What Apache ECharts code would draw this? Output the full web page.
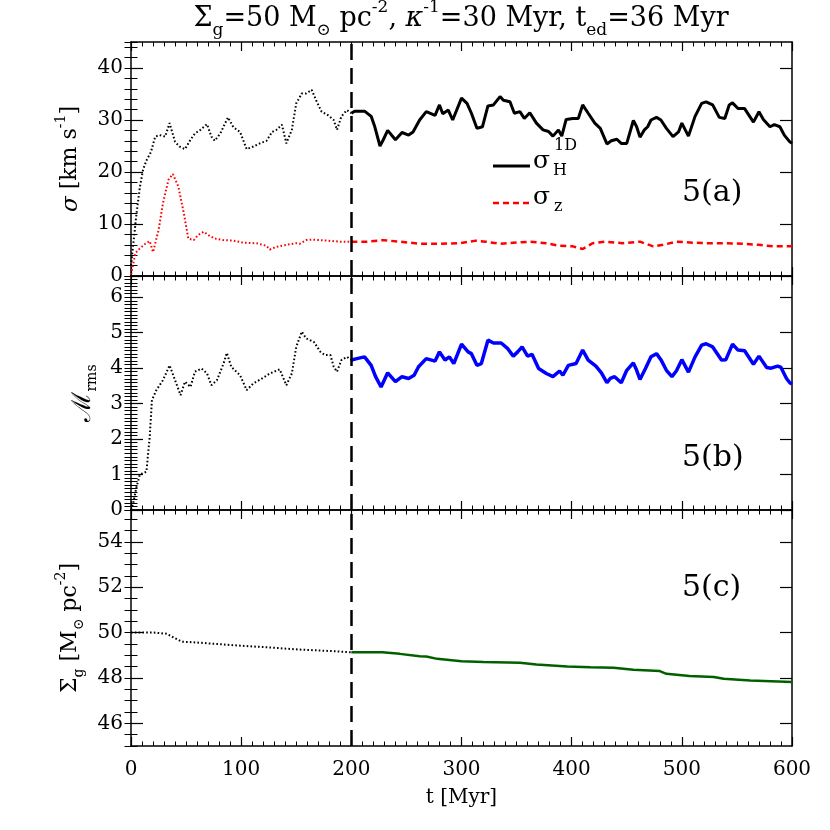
<!DOCTYPE html>
<html><head><meta charset="utf-8">
<script src="https://cdn.jsdelivr.net/npm/echarts@6/dist/echarts.min.js"></script>
<style>html,body{margin:0;padding:0;background:#fff}#c{width:830px;height:830px}</style>
</head><body><div id="c"></div>
<script>
// ---------------- data ----------------
const dividerT = 200;
const xTicks = [0, 100, 200, 300, 400, 500, 600];
// panel (a): sigma_H^1D
const tH1 = [0,2,5,8,11,14,18,22,26,31,35,40,44,49,54,58,63,69,73,76,81,88,93,99,105,111,117,123,128,132,137,141,146,150,155,159,164,168,173,179,184,187,191,196,200];
const sH1 = [2,6,12,17,20.5,22.2,23.8,26.8,27.1,26.8,29.4,25.8,24.9,24.4,26.2,27.4,28.1,29.2,26.8,26.0,27.4,30.5,28.6,27.7,24.4,24.9,25.5,26.0,27.7,28.1,29.1,25.5,28.1,33.2,35.1,35.1,35.8,33.8,31.6,30.9,30.0,28.1,30.7,31.9,31.3];
const tH2 = [200,203,212,218,221,226,229,233,240,246,252,256,262,268,276,280,283,288,292,300,305,309,314,319,324,329,335,338,344,348,353,357,362,368,374,379,383,388,391,395,401,406,410,415,421,426,432,436,441,445,450,456,459,462,466,469,472,477,481,486,492,497,500,506,512,518,522,528,534,539,543,546,551,557,561,565,570,574,580,584,589,593,598,600];
const sH2 = [31.3,31.7,31.7,30.7,28.9,25.0,26.2,28.0,26.2,27.6,27.1,27.7,30.0,31.6,30.9,32.9,31.2,31.9,30.0,34.2,33.2,31.3,28.4,28.7,32.7,32.9,34.5,33.8,33.5,31.3,31.6,30.3,31.4,29.4,28.1,27.8,26.9,28.1,26.9,30.1,30.3,30.3,32.9,31.3,29.4,28.4,25.4,26.0,26.3,25.5,25.5,29.9,28.7,26.7,28.1,28.7,30.0,30.5,30.0,28.4,26.8,27.7,29.4,26.9,30.7,33.2,33.5,32.9,30.5,30.3,32.9,33.3,32.2,32.2,30.9,29.6,31.6,30.1,28.7,29.1,28.7,27.1,25.8,25.5];
// panel (a): sigma_z
const tZ1 = [0,4,8,13,17,20,25,29,34,38,43,48,52,57,61,66,70,76,84,93,102,114,123,126,132,141,150,153,159,165,178,190,200];
const sZ1 = [0.3,4.4,5.3,6.2,6.7,4.6,8.8,14.0,18.5,19.6,17.2,12.0,7.2,6.9,7.9,8.5,7.9,7.2,6.9,6.8,6.4,6.3,5.8,5.1,5.6,6.0,6.3,6.2,6.9,7.0,6.8,6.6,6.6];
const tZ2 = [200,214,229,244,262,280,298,313,322,335,347,362,377,389,401,410,419,431,446,462,474,483,495,510,525,540,555,570,583,600];
const sZ2 = [6.6,6.6,6.9,6.6,6.2,6.2,6.3,6.8,6.6,6.2,6.4,6.6,6.3,5.8,5.7,5.2,6.3,6.6,6.3,6.6,5.7,6.0,6.6,6.4,6.3,6.3,6.2,6.0,5.7,5.7];
// panel (b): Mach_rms
const tM1 = [0,2,5,8,14,17,19,23,29,35,40,45,49,54,58,64,69,73,78,84,87,91,99,105,111,119,126,135,141,146,150,155,159,166,172,176,181,184,187,191,196,200];
const sM1 = [0,0.19,0.65,1.0,1.08,2.07,3.1,3.38,3.66,4.08,3.66,3.24,3.62,3.47,3.90,3.99,3.85,3.52,3.66,4.13,4.43,4.04,3.80,3.38,3.57,3.71,3.85,3.97,3.52,3.85,4.60,5.03,4.84,4.74,4.46,4.37,4.37,4.04,3.90,4.23,4.32,4.23];
const tM2 = [200,205,212,218,222,227,233,240,246,252,257,261,268,276,280,285,289,293,300,306,309,314,318,324,329,336,342,347,351,355,360,364,370,377,383,389,392,397,404,410,415,422,427,432,435,439,445,450,456,459,462,467,472,477,481,486,491,495,500,506,512,518,522,528,536,540,546,551,557,565,570,577,581,587,590,595,598,600];
const sM2 = [4.23,4.27,4.32,4.08,3.76,3.47,3.87,3.62,3.76,3.71,3.80,4.04,4.27,4.20,4.46,4.23,4.32,4.13,4.68,4.46,4.41,4.08,4.13,4.79,4.71,4.71,4.55,4.34,4.46,4.60,4.34,4.39,3.99,3.85,3.76,3.92,3.80,4.08,4.13,4.51,4.23,4.06,3.87,3.59,3.71,3.76,3.59,3.94,4.15,3.94,3.68,3.99,4.32,4.41,4.24,3.94,3.76,3.92,4.24,3.89,4.32,4.65,4.69,4.60,4.23,4.24,4.68,4.51,4.49,4.11,4.34,4.02,4.00,4.06,4.02,3.71,3.59,3.55];
// panel (c): Sigma_g
const tS1 = [0,20,32,38,46,63,93,123,153,184,200];
const sS1 = [50.0,50.0,49.95,49.8,49.6,49.55,49.44,49.35,49.25,49.18,49.13];
const tS2 = [200,228,244,262,268,278,300,320,353,368,396,417,438,456,480,486,507,529,538,562,600];
const sS2 = [49.13,49.13,49.06,48.96,48.94,48.84,48.74,48.70,48.67,48.59,48.50,48.47,48.45,48.36,48.30,48.18,48.08,48.04,47.96,47.89,47.82];
// tick labels
const yTicksA = [0, 10, 20, 30, 40];
const yTicksB = [0, 1, 2, 3, 4, 5, 6];
const yTicksC = [46, 48, 50, 52, 54];

// ---------------- chart ----------------
const FONT = 'DejaVu Serif';
const chart = echarts.init(document.getElementById('c'), null, {renderer: 'canvas'});

const grids = [
  {left: 131, right: 38, top: 42, height: 234},
  {left: 131, right: 38, top: 276, height: 234},
  {left: 131, right: 38, top: 510, height: 236}
];

const lineCol = '#000';
function xPair(gi, showLabel) {
  const base = {
    type: 'value', gridIndex: gi, min: 0, max: 600, interval: 100,
    axisLine: {show: true, onZero: false, lineStyle: {color: lineCol, width: 1.5}},
    axisTick: {show: true, inside: true, length: 9, lineStyle: {color: lineCol, width: 1.2}},
    minorTick: {show: true, splitNumber: 10, length: 4.5, lineStyle: {color: lineCol, width: 1}},
    splitLine: {show: false}, minorSplitLine: {show: false}
  };
  const bottom = Object.assign({}, base, {
    position: 'bottom',
    axisLabel: {show: showLabel, color: '#000', fontFamily: FONT, fontSize: 20, margin: 14,
      customValues: xTicks},
    name: showLabel ? 't [Myr]' : '', nameLocation: 'middle', nameGap: 42,
    nameTextStyle: {color: '#000', fontFamily: FONT, fontSize: 20}
  });
  const top = Object.assign({}, base, {position: 'top', axisLabel: {show: false}});
  return [bottom, top];
}

const nameRich = {
  sp: {fontFamily: FONT, fontSize: 14, lineHeight: 14, verticalAlign: 'top', color: '#000'},
  sb: {fontFamily: FONT, fontSize: 14, lineHeight: 14, verticalAlign: 'bottom', color: '#000'},
  m: {fontFamily: FONT, fontSize: 26, lineHeight: 32, color: '#000'},
  i: {fontFamily: FONT, fontSize: 23, lineHeight: 32, fontStyle: 'italic', color: '#000'},
  n: {fontFamily: FONT, fontSize: 22, lineHeight: 32, color: '#000'}
};

function yAxes(gi, min, max, interval, minorInterval, ticks, name, nameGap) {
  const common = {type: 'value', gridIndex: gi, min: min, max: max, splitLine: {show: false}};
  const major = (pos, showLab) => Object.assign({}, common, {
    position: pos,
    interval: (min % interval === 0) ? interval : undefined,
    axisLine: {show: true, onZero: false, lineStyle: {color: lineCol, width: 1.5}},
    axisTick: {show: true, inside: true, length: 12, customValues: ticks, lineStyle: {color: lineCol, width: 1.2}},
    axisLabel: {show: showLab, customValues: ticks, color: '#000', fontFamily: FONT, fontSize: 20, margin: 8},
    name: showLab ? name : '', nameLocation: 'middle', nameRotate: 90, nameGap: nameGap,
    nameTextStyle: {color: '#000', fontFamily: FONT, fontSize: 22, lineHeight: 32, rich: nameRich}
  });
  const minor = (pos) => Object.assign({}, common, {
    position: pos, interval: minorInterval,
    axisLine: {show: false},
    axisTick: {show: true, inside: true, length: 6.5, lineStyle: {color: lineCol, width: 1}},
    axisLabel: {show: false}
  });
  return [major('left', true), minor('left'), major('right', false), minor('right')];
}

const xAxis = [].concat(xPair(0, false), xPair(1, false), xPair(2, true));
const yAxis = [].concat(
  yAxes(0, 0, 45, 10, 2, yTicksA, '{i|σ}{n| [km s}{sp|-1}{n|]}', 42),
  yAxes(1, 0, 6.6, 1, 0.1, yTicksB, '{m|ℳ}{sb|rms}', 32),
  yAxes(2, 45, 55.4, 2, 0.5, yTicksC, '{n|Σ}{sb|g}{n| [M}{sb|⊙}{n| pc}{sp|-2}{n|]}', 40)
);

function mk(t, v) { return t.map((x, i) => [x, v[i]]); }
const dividerMark = {
  silent: true, symbol: ['none', 'none'], label: {show: false}, animation: false,
  lineStyle: {color: '#000', type: [16, 8], width: 2.5},
  data: [{xAxis: dividerT}]
};
function ln(gi, t, v, color, width, type, withMark) {
  const s = {
    type: 'line', xAxisIndex: gi * 2, yAxisIndex: gi * 4, data: mk(t, v),
    symbol: 'none', showSymbol: false, silent: true, animation: false, z: 3,
    lineStyle: {color: color, width: width, type: type}
  };
  if (withMark) s.markLine = dividerMark;
  return s;
}

const dots = [1.6, 2.2];
const series = [
  ln(0, tZ1, sZ1, '#ff0000', 2, dots, false),
  ln(0, tZ2, sZ2, '#ff0000', 2.5, [6, 4], false),
  ln(0, tH1, sH1, '#000000', 2, dots, true),
  ln(0, tH2, sH2, '#000000', 3, 'solid', false),
  ln(1, tM1, sM1, '#000000', 2, dots, true),
  ln(1, tM2, sM2, '#0000ff', 3.5, 'solid', false),
  ln(2, tS1, sS1, '#000000', 2, dots, true),
  ln(2, tS2, sS2, '#006000', 2.5, 'solid', false)
];

const tRich = {
  n: {fontFamily: FONT, fontSize: 27, lineHeight: 40, color: '#000'},
  k: {fontFamily: FONT, fontSize: 27, lineHeight: 40, fontStyle: 'italic', color: '#000'},
  sp: {fontFamily: FONT, fontSize: 17, lineHeight: 17, verticalAlign: 'top', color: '#000'},
  sb: {fontFamily: FONT, fontSize: 17, lineHeight: 17, verticalAlign: 'bottom', color: '#000'}
};
const legRich = {
  s: {fontFamily: FONT, fontSize: 25, lineHeight: 40, color: '#000'},
  sp: {fontFamily: FONT, fontSize: 16, lineHeight: 16, verticalAlign: 'top', color: '#000'},
  sb: {fontFamily: FONT, fontSize: 16, lineHeight: 16, verticalAlign: 'bottom', color: '#000'}
};
const panelFont = {fontFamily: FONT, fontSize: 30, fill: '#000'};

const graphic = [
  {type: 'text', x: 461, y: 19, style: {
    text: '{n|Σ}{sb|g}{n|=50 M}{sb|⊙}{n| pc}{sp|-2}{n|, }{k|κ}{sp|-1}{n|=30 Myr, t}{sb|ed}{n|=36 Myr}',
    rich: tRich, textAlign: 'center', textVerticalAlign: 'middle'}},
  {type: 'line', shape: {x1: 493, y1: 166, x2: 530, y2: 166}, style: {stroke: '#000', lineWidth: 3}},
  {type: 'text', x: 533, y: 161, style: {text: '{s|σ}', rich: legRich, textVerticalAlign: 'middle'}},
  {type: 'text', x: 554, y: 146, style: {text: '{sp|1D}', rich: legRich, textVerticalAlign: 'middle'}},
  {type: 'text', x: 553, y: 171, style: {text: '{sb|H}', rich: legRich, textVerticalAlign: 'middle'}},
  {type: 'line', shape: {x1: 493, y1: 203, x2: 532, y2: 203}, style: {stroke: '#ff0000', lineWidth: 2.5, lineDash: [6, 4]}},
  {type: 'text', x: 533, y: 197, style: {text: '{s|σ}', rich: legRich, textVerticalAlign: 'middle'}},
  {type: 'text', x: 554, y: 207, style: {text: '{sb|z}', rich: legRich, textVerticalAlign: 'middle'}},
  {type: 'text', x: 682, y: 193, style: Object.assign({text: '5(a)', textVerticalAlign: 'middle'}, panelFont)},
  {type: 'text', x: 682, y: 458, style: Object.assign({text: '5(b)', textVerticalAlign: 'middle'}, panelFont)},
  {type: 'text', x: 682, y: 588, style: Object.assign({text: '5(c)', textVerticalAlign: 'middle'}, panelFont)}
];

chart.setOption({
  animation: false,
  backgroundColor: '#fff',
  grid: grids,
  xAxis: xAxis,
  yAxis: yAxis,
  series: series,
  graphic: graphic
});
</script>
</body></html>
